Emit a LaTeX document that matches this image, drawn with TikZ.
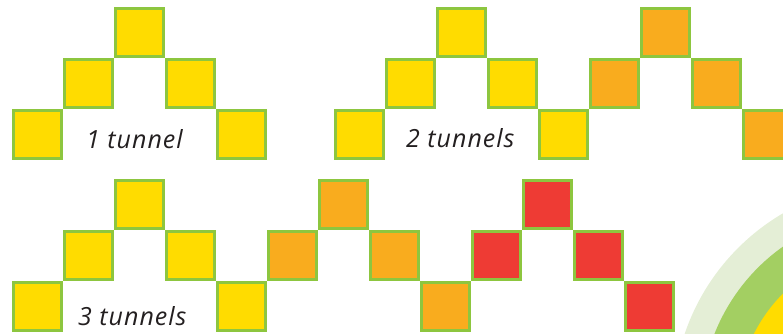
\documentclass[tikz,border=0pt]{standalone}
\usepackage{fontspec}
\newfontfamily\labelfont[LetterSpace=4]{Open Sans}
\definecolor{tileedge}{HTML}{8DC63F}
\definecolor{tyellow}{HTML}{FFDC00}
\definecolor{torange}{HTML}{F9AC1E}
\definecolor{tred}{HTML}{EE3B34}
\definecolor{palegreen}{HTML}{E4EED6}
\definecolor{midgreen}{HTML}{A3CF62}
\definecolor{textgrey}{HTML}{231F20}
\tikzset{
  tile/.style={draw=tileedge, line width=2.6pt, minimum size=48.4pt, inner sep=0pt},
  caption/.style={font=\labelfont\itshape\fontsize{25pt}{25pt}\selectfont, text=textgrey, anchor=base west, inner sep=0pt}
}
\begin{document}
\begin{tikzpicture}[x=1pt,y=-1pt]
        \useasboundingbox (0,0) rectangle (783,333);
        \clip (0,0) rectangle (783,333);
        % rainbow corner
        \fill[palegreen] (895,405) circle (222);
        \fill[midgreen] (895,405) circle (194);
        \fill[tyellow] (895,405) circle (158);
        % 1 tunnel
        \foreach \h/\c [count=\i from 0] in {0/tyellow,1/tyellow,2/tyellow,1/tyellow,0/tyellow}
            \node[tile, fill=\c] (a\i) at (37.5+51*\i, 134.5-51*\h) {};
        \node[caption] (lbla) at (86,148) {1 tunnel};
        % 2 tunnels
        \foreach \h/\c [count=\i from 0] in {0/tyellow,1/tyellow,2/tyellow,1/tyellow,0/tyellow,1/torange,2/torange,1/torange,0/torange}
            \node[tile, fill=\c] (b\i) at (359.5+51*\i, 134.5-51*\h) {};
        \node[caption] (lblb) at (406,147) {2 tunnels};
        % 3 tunnels
        \foreach \h/\c [count=\i from 0] in {0/tyellow,1/tyellow,2/tyellow,1/tyellow,0/tyellow,1/torange,2/torange,1/torange,0/torange,1/tred,2/tred,1/tred,0/tred}
            \node[tile, fill=\c] (c\i) at (37.5+51*\i, 306.5-51*\h) {};
        \node[caption] (lblc) at (78,325) {3 tunnels};
    \end{tikzpicture}
\end{document}
